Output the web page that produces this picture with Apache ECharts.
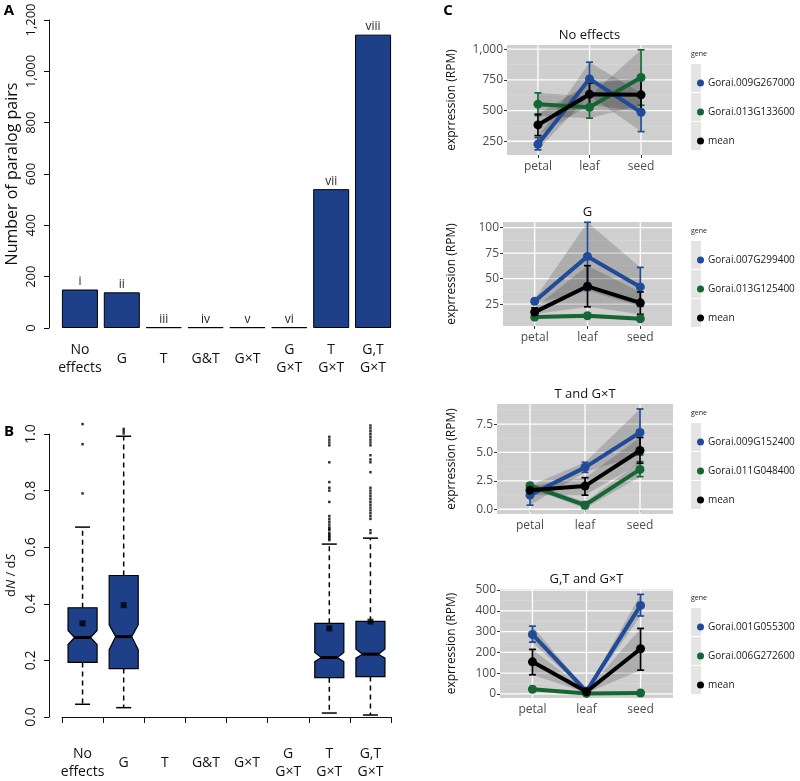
<!DOCTYPE html>
<html><head><meta charset="utf-8">
<script src="https://cdn.jsdelivr.net/npm/echarts@6/dist/echarts.min.js"></script>
<style>html,body{margin:0;padding:0;background:#fff}#c{width:800px;height:781px}</style>
</head><body><div id="c"></div>
<script>
// ---------- Panel A ----------
const categories = ['No\neffects','G','T','G&T','G×T','G\nG×T','T\nG×T','G,T\nG×T'];
const pairCounts = [150, 139, 3, 3, 3, 3, 541, 1143];
const barTags = ['i','ii','iii','iv','v','vi','vii','viii'];

// ---------- Panel B (dN/dS notched boxes) ----------
const whiskLow  = [0.045, 0.033, null, null, null, null, 0.014, 0.007];
const boxQ1     = [0.193, 0.171, null, null, null, null, 0.139, 0.143];
const notchLo   = [0.256, 0.238, null, null, null, null, 0.196, 0.208];
const boxMedian = [0.281, 0.284, null, null, null, null, 0.210, 0.222];
const notchHi   = [0.306, 0.326, null, null, null, null, 0.228, 0.240];
const boxQ3     = [0.386, 0.500, null, null, null, null, 0.331, 0.338];
const whiskHigh = [0.671, 0.992, null, null, null, null, 0.611, 0.632];
const boxMean   = [0.331, 0.395, null, null, null, null, 0.313, 0.337];
const outNoEffects = [0.79, 0.964, 1.035];
const outG = [1.002, 1.010, 1.018];
const outTGxT = [0.99, 0.98, 0.97, 0.96, 0.90, 0.83, 0.81, 0.80, 0.76, 0.71, 0.70, 0.69, 0.68, 0.67, 0.665, 0.66, 0.65, 0.645, 0.64, 0.635, 0.63, 0.625];
const outGTGxT = [1.03, 1.02, 1.01, 1.00, 0.99, 0.98, 0.97, 0.96, 0.925, 0.91, 0.90, 0.865, 0.81, 0.80, 0.79, 0.78, 0.77, 0.76, 0.75, 0.74, 0.73, 0.72, 0.71, 0.70, 0.66, 0.65];

// ---------- Panel C ----------
const tissues = ['petal', 'leaf', 'seed'];
const geneColors = ['#1f4b99', '#146634', '#000000'];

const c1Title = 'No effects';
const c1Genes = ['Gorai.009G267000', 'Gorai.013G133600', 'mean'];
const c1Vals = [[226, 758, 486], [552, 527, 769], [383, 633, 628]];
const c1Lo   = [[180, 622, 329], [460, 438, 543], [296, 546, 492]];
const c1Hi   = [[280, 894, 643], [644, 616, 995], [470, 723, 764]];
const c1Ticks = [250, 500, 750, 1000];

const c2Title = 'G';
const c2Genes = ['Gorai.007G299400', 'Gorai.013G125400', 'mean'];
const c2Vals = [[27.9, 71.8, 41.9], [12.3, 13.6, 10.7], [17.2, 42.5, 26.3]];
const c2Lo   = [[25.6, 38.4, 22.8], [11.0, 11.5, 9.5], [15.0, 22.4, 15.0]];
const c2Hi   = [[30.2, 105.2, 61.0], [13.6, 15.7, 11.9], [21.4, 62.7, 37.0]];
const c2Ticks = [25, 50, 75, 100];

const c3Title = 'T and G×T';
const c3Genes = ['Gorai.009G152400', 'Gorai.011G048400', 'mean'];
const c3Vals = [[1.24, 3.69, 6.76], [2.07, 0.36, 3.51], [1.68, 2.04, 5.17]];
const c3Lo   = [[0.36, 3.25, 4.78], [1.85, 0.06, 2.87], [1.24, 1.24, 4.05]];
const c3Hi   = [[2.10, 4.13, 8.83], [2.30, 0.66, 4.19], [2.07, 2.78, 6.32]];
const c3Ticks = [0, 2.5, 5, 7.5];

const c4Title = 'G,T and G×T';
const c4Genes = ['Gorai.001G055300', 'Gorai.006G272600', 'mean'];
const c4Vals = [[286, 12, 426], [22, 2, 4], [154, 10, 217]];
const c4Lo   = [[249, 5, 375], [18, 1, 2], [92, 4, 114]];
const c4Hi   = [[326, 19, 479], [26, 3, 6], [214, 16, 315]];
const c4Ticks = [0, 100, 200, 300, 400, 500];

const FONT = "'Open Sans', 'Noto Sans', sans-serif";
const BAR_BLUE = '#1d4088';

const chart = echarts.init(document.getElementById('c'), null, {renderer: 'canvas'});

const grids = [], xAxes = [], yAxes = [], series = [], legends = [], graphics = [];

// ===== Panel A =====
grids.push({left: 59, width: 335, top: 20, height: 308});
xAxes.push({type: 'category', gridIndex: 0, data: categories,
  axisLine: {show: false}, axisTick: {show: false},
  axisLabel: {fontSize: 14, lineHeight: 18, color: '#111', fontFamily: FONT, verticalAlign: 'middle', margin: 31, interval: 0}});
yAxes.push({type: 'value', gridIndex: 0, min: 0, max: 1200, interval: 200, offset: 10,
  axisLine: {show: true, lineStyle: {color: '#111', width: 1}},
  axisTick: {show: true, length: 5, lineStyle: {color: '#111'}},
  splitLine: {show: false},
  axisLabel: {rotate: 90, fontSize: 13, color: '#111', fontFamily: FONT, margin: 11,
    formatter: v => v.toLocaleString('en-US')},
  name: 'Number of paralog pairs', nameLocation: 'middle', nameGap: 29, nameRotate: 90,
  nameTextStyle: {fontSize: 16, color: '#111', fontFamily: FONT}});
series.push({type: 'bar', xAxisIndex: 0, yAxisIndex: 0, data: pairCounts, barCategoryGap: '14%',
  itemStyle: {color: BAR_BLUE, borderColor: '#000', borderWidth: 1},
  label: {show: true, position: 'top', distance: 2, fontSize: 12, color: '#222', fontFamily: FONT,
    formatter: p => barTags[p.dataIndex]}});

// ===== Panel B =====
grids.push({left: 62, width: 329, top: 434, height: 285});
xAxes.push({type: 'category', gridIndex: 1, data: categories, offset: 12,
  axisLine: {show: true, lineStyle: {color: '#111', width: 1}},
  axisTick: {show: true, length: 6, alignWithLabel: false, interval: 0, lineStyle: {color: '#111'}},
  axisLabel: {fontSize: 14, lineHeight: 18, color: '#111', fontFamily: FONT, verticalAlign: 'middle', margin: 34, interval: 0}});
yAxes.push({type: 'value', gridIndex: 1, min: 0, max: 1, interval: 0.2, offset: 13,
  axisLine: {show: true, lineStyle: {color: '#111', width: 1}},
  axisTick: {show: true, length: 5, lineStyle: {color: '#111'}},
  splitLine: {show: false},
  axisLabel: {rotate: 90, fontSize: 14, color: '#111', fontFamily: FONT, margin: 11, formatter: v => v.toFixed(1)},
  name: 'd{i|N} / d{i|S}', nameLocation: 'middle', nameGap: 31, nameRotate: 90,
  nameTextStyle: {fontSize: 13, color: '#111', fontFamily: FONT, rich: {i: {fontStyle: 'italic', fontSize: 13, fontFamily: FONT}}}});

const boxItems = [];
categories.forEach((c, i) => {
  if (boxMedian[i] == null) return;
  boxItems.push([i, whiskLow[i], boxQ1[i], notchLo[i], boxMedian[i], notchHi[i], boxQ3[i], whiskHigh[i]]);
});
series.push({type: 'custom', xAxisIndex: 1, yAxisIndex: 1, data: boxItems, z: 3,
  renderItem: (params, api) => {
    const i = api.value(0);
    const Y = v => api.coord([i, v])[1];
    const x = api.coord([i, api.value(4)])[0];
    const band = api.size([1, 0])[0];
    const hw = band * 0.353, nw = hw * 0.55, cw = 7.5;
    const low = api.value(1), q1 = api.value(2), nl = api.value(3), md = api.value(4), nh = api.value(5), q3 = api.value(6), hi = api.value(7);
    const dash = {stroke: '#000', lineWidth: 1.5, lineDash: [5, 4]};
    return {type: 'group', children: [
      {type: 'line', shape: {x1: x, y1: Y(q3), x2: x, y2: Y(hi)}, style: dash},
      {type: 'line', shape: {x1: x, y1: Y(q1), x2: x, y2: Y(low)}, style: dash},
      {type: 'line', shape: {x1: x - cw, y1: Y(hi), x2: x + cw, y2: Y(hi)}, style: {stroke: '#000', lineWidth: 1.5}},
      {type: 'line', shape: {x1: x - cw, y1: Y(low), x2: x + cw, y2: Y(low)}, style: {stroke: '#000', lineWidth: 1.5}},
      {type: 'polygon', shape: {points: [
        [x - hw, Y(q3)], [x + hw, Y(q3)], [x + hw, Y(nh)], [x + nw, Y(md)], [x + hw, Y(nl)],
        [x + hw, Y(q1)], [x - hw, Y(q1)], [x - hw, Y(nl)], [x - nw, Y(md)], [x - hw, Y(nh)]]},
        style: {fill: BAR_BLUE, stroke: '#000', lineWidth: 1.2}},
      {type: 'line', shape: {x1: x - nw, y1: Y(md), x2: x + nw, y2: Y(md)}, style: {stroke: '#000', lineWidth: 3}}
    ]};
  }});
const meanPts = [];
categories.forEach((c, i) => { if (boxMean[i] != null) meanPts.push([i, boxMean[i]]); });
series.push({type: 'scatter', xAxisIndex: 1, yAxisIndex: 1, data: meanPts, symbol: 'rect', symbolSize: 6,
  itemStyle: {color: '#000'}, z: 5, clip: false});
const outPts = [];
[[0, outNoEffects], [1, outG], [6, outTGxT], [7, outGTGxT]].forEach(([i, arr]) => arr.forEach(v => outPts.push([i, v])));
series.push({type: 'scatter', xAxisIndex: 1, yAxisIndex: 1, data: outPts, symbol: 'rect', symbolSize: 2.5,
  itemStyle: {color: '#000'}, z: 5, clip: false});

// ===== Panel C =====
const subplots = [
  {title: c1Title, genes: c1Genes, vals: c1Vals, lo: c1Lo, hi: c1Hi, ticks: c1Ticks, min: 138, max: 1034,
   fmt: v => v.toLocaleString('en-US'), pos: {left: 507, top: 45, width: 165, height: 110}},
  {title: c2Title, genes: c2Genes, vals: c2Vals, lo: c2Lo, hi: c2Hi, ticks: c2Ticks, min: 3.6, max: 105.5,
   fmt: v => String(v), pos: {left: 503, top: 222, width: 169, height: 104}},
  {title: c3Title, genes: c3Genes, vals: c3Vals, lo: c3Lo, hi: c3Hi, ticks: c3Ticks, min: -0.42, max: 9.27,
   fmt: v => v.toFixed(1), pos: {left: 497, top: 404, width: 176, height: 110}},
  {title: c4Title, genes: c4Genes, vals: c4Vals, lo: c4Lo, hi: c4Hi, ticks: c4Ticks, min: -20, max: 505,
   fmt: v => String(v), pos: {left: 500, top: 589, width: 173, height: 109}}
];

subplots.forEach((sp, k) => {
  const gi = k + 2;
  const p = sp.pos;
  grids.push({left: p.left, top: p.top, width: p.width, height: p.height, show: true, backgroundColor: '#d0cfcf', borderWidth: 0});
  xAxes.push({type: 'value', gridIndex: gi, min: 0.4, max: 3.6,
    axisLine: {show: false}, splitLine: {show: false},
    axisTick: {show: true, customValues: [1, 2, 3], length: 3, lineStyle: {color: '#333'}},
    axisLabel: {customValues: [1, 2, 3], formatter: v => tissues[Math.round(v) - 1], fontSize: 12, color: '#4d4d4d', fontFamily: FONT, margin: 6}});
  yAxes.push({type: 'value', gridIndex: gi, min: sp.min, max: sp.max,
    axisLine: {show: false}, splitLine: {show: false},
    axisTick: {show: true, customValues: sp.ticks, length: 3, lineStyle: {color: '#333'}},
    axisLabel: {customValues: sp.ticks, formatter: sp.fmt, fontSize: 12, color: '#4d4d4d', fontFamily: FONT, margin: 4},
    name: 'exprression (RPM)', nameLocation: 'middle', nameRotate: 90, nameGap: p.left - 458,
    nameTextStyle: {fontSize: 12, color: '#111', fontFamily: FONT}});

  // grid lines (major at ticks, minor at midpoints, vertical at tissues)
  const step = sp.ticks[1] - sp.ticks[0];
  const lines = [];
  for (let t = sp.ticks[0] - step / 2; t <= sp.max; t += step) if (t >= sp.min) lines.push([0, t, 0]);
  sp.ticks.forEach(t => lines.push([0, t, 1]));
  [1, 2, 3].forEach(t => lines.push([1, t, 1]));
  series.push({type: 'custom', xAxisIndex: gi, yAxisIndex: gi, data: lines, z: 1, silent: true,
    renderItem: (params, api) => {
      const cs = params.coordSys;
      const kind = api.value(0), v = api.value(1), major = api.value(2);
      const st = {stroke: major ? '#ffffff' : '#dcdcdc', lineWidth: major ? 1.3 : 0.6};
      if (kind === 0) {
        const y = api.coord([1, v])[1];
        return {type: 'line', shape: {x1: cs.x, y1: y, x2: cs.x + cs.width, y2: y}, style: st};
      }
      const x = api.coord([v, sp.min])[0];
      return {type: 'line', shape: {x1: x, y1: cs.y, x2: x, y2: cs.y + cs.height}, style: st};
    }});

  // ribbons
  series.push({type: 'custom', xAxisIndex: gi, yAxisIndex: gi, data: [[0], [1], [2]], z: 2, silent: true,
    renderItem: (params, api) => {
      const g = params.dataIndex;
      const pts = [];
      for (let j = 0; j < 3; j++) pts.push(api.coord([j + 1, sp.hi[g][j]]));
      for (let j = 2; j >= 0; j--) pts.push(api.coord([j + 1, sp.lo[g][j]]));
      return {type: 'polygon', shape: {points: pts}, style: {fill: 'rgba(0,0,0,0.16)'}};
    }});

  // error bars
  sp.genes.forEach((g, gIdx) => {
    series.push({type: 'custom', xAxisIndex: gi, yAxisIndex: gi, z: 3, silent: true,
      data: tissues.map((t, j) => [j + 1, sp.lo[gIdx][j], sp.hi[gIdx][j]]),
      renderItem: (params, api) => {
        const x = api.coord([api.value(0), api.value(1)])[0];
        const yl = api.coord([api.value(0), api.value(1)])[1];
        const yh = api.coord([api.value(0), api.value(2)])[1];
        const st = {stroke: geneColors[gIdx], lineWidth: 1.7};
        return {type: 'group', children: [
          {type: 'line', shape: {x1: x, y1: yl, x2: x, y2: yh}, style: st},
          {type: 'line', shape: {x1: x - 3.5, y1: yl, x2: x + 3.5, y2: yl}, style: st},
          {type: 'line', shape: {x1: x - 3.5, y1: yh, x2: x + 3.5, y2: yh}, style: st}]};
      }});
  });
  // lines + points
  sp.genes.forEach((g, gIdx) => {
    series.push({type: 'line', name: g, xAxisIndex: gi, yAxisIndex: gi, z: 4 + gIdx,
      data: tissues.map((t, j) => [j + 1, sp.vals[gIdx][j]]),
      symbol: 'circle', symbolSize: 9, showSymbol: true,
      lineStyle: {color: geneColors[gIdx], width: 4},
      itemStyle: {color: geneColors[gIdx]}});
  });

  // legend
  const d1 = p.top + 33;
  legends.push({orient: 'vertical', left: 692, top: d1 - 5, itemWidth: 7, itemHeight: 7, itemGap: 19,
    icon: 'circle', selectedMode: false, data: sp.genes,
    textStyle: {fontSize: 10, color: '#1a1a1a', fontFamily: FONT, padding: [0, 0, 0, -1]}});
  for (let r = 0; r < 3; r++) {
    graphics.push({type: 'rect', shape: {x: 691, y: d1 - 14 + r * 29, width: 10, height: 28},
      style: {fill: '#e4e4e4'}, z: -1});
  }
  graphics.push({type: 'text', x: 691, y: d1 - 24, style: {text: 'gene', fontSize: 7, fill: '#222', fontFamily: FONT, verticalAlign: 'middle'}});
  graphics.push({type: 'text', x: p.left + p.width / 2, y: p.top - 10,
    style: {text: sp.title, fontSize: 13, fill: '#111', fontFamily: FONT, align: 'center', verticalAlign: 'middle'}});
});

graphics.push({type: 'text', x: 9, y: 11, style: {text: 'A', fontSize: 15, fontWeight: 'bold', fill: '#000', fontFamily: FONT, align: 'center', verticalAlign: 'middle'}});
graphics.push({type: 'text', x: 9, y: 432, style: {text: 'B', fontSize: 15, fontWeight: 'bold', fill: '#000', fontFamily: FONT, align: 'center', verticalAlign: 'middle'}});
graphics.push({type: 'text', x: 448, y: 11, style: {text: 'C', fontSize: 15, fontWeight: 'bold', fill: '#000', fontFamily: FONT, align: 'center', verticalAlign: 'middle'}});

chart.setOption({
  animation: false,
  grid: grids, xAxis: xAxes, yAxis: yAxes, series: series, legend: legends,
  graphic: {elements: graphics}
});
</script></body></html>
